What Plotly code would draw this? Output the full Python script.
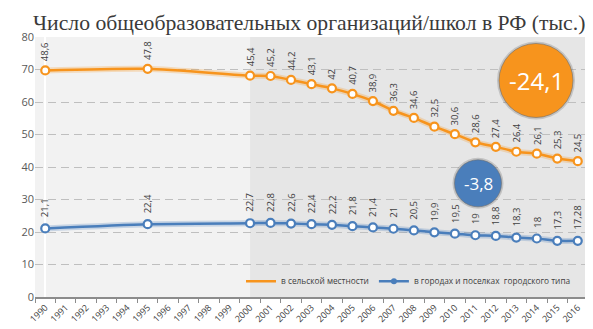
import plotly.graph_objects as go

years = [str(y) for y in range(1990, 2017)]
data_years = ["1990", "1995", "2000", "2001", "2002", "2003", "2004", "2005", "2006",
              "2007", "2008", "2009", "2010", "2011", "2012", "2013", "2014", "2015", "2016"]
rural = [48.6, 47.8, 45.4, 45.2, 44.2, 43.1, 42, 40.7, 38.9, 36.3, 34.6, 32.5, 30.6,
         28.6, 27.4, 26.4, 26.1, 25.3, 24.5]
urban = [21.1, 22.4, 22.7, 22.8, 22.6, 22.4, 22.2, 21.8, 21.4, 21, 20.5, 19.9, 19.5,
         19, 18.8, 18.3, 18, 17.3, 17.28]
rural_change = "-24,1"
urban_change = "-3,8"
title = "Число общеобразовательных организаций/школ в РФ (тыс.)"
rural_name = "в сельской местности"
urban_name = "в городах и поселках  городского типа"

ORANGE = "#F7941D"
BLUE = "#4A7EBB"

stacked = [r + u for r, u in zip(rural, urban)]
xi = [years.index(y) for y in data_years]

def fmt(v):
    return ("%g" % v).replace(".", ",")

fig = go.Figure()

# glow
fig.add_trace(go.Scatter(x=xi, y=stacked, mode="lines",
                         line=dict(color=ORANGE, width=6, shape="spline", smoothing=0.6),
                         opacity=0.25, showlegend=False, hoverinfo="skip"))
fig.add_trace(go.Scatter(x=xi, y=urban, mode="lines",
                         line=dict(color=BLUE, width=6, shape="spline", smoothing=0.6),
                         opacity=0.25, showlegend=False, hoverinfo="skip"))

fig.add_trace(go.Scatter(x=xi, y=stacked, mode="lines+markers",
                         line=dict(color=ORANGE, width=2.5, shape="spline", smoothing=0.6),
                         marker=dict(size=8, color="white", line=dict(color=ORANGE, width=2.2)),
                         showlegend=False))
fig.add_trace(go.Scatter(x=xi, y=urban, mode="lines+markers",
                         line=dict(color=BLUE, width=2.5, shape="spline", smoothing=0.6),
                         marker=dict(size=8, color="white", line=dict(color=BLUE, width=2.2)),
                         showlegend=False))

# legend-only traces
fig.add_trace(go.Scatter(x=[None], y=[None], mode="lines", name=rural_name,
                         line=dict(color=ORANGE, width=2.5)))
fig.add_trace(go.Scatter(x=[None], y=[None], mode="lines+markers", name=urban_name,
                         line=dict(color=BLUE, width=2.5),
                         marker=dict(size=6, color=BLUE)))

annotations = []
for x, y, v in zip(xi, stacked, rural):
    annotations.append(dict(x=x, y=y, xref="x", yref="y", text=fmt(v), showarrow=False,
                            textangle=-90, yanchor="bottom", xanchor="center", yshift=7,
                            font=dict(family="Open Sans", size=9.5, color="#404040")))
for x, y, v in zip(xi, urban, urban):
    annotations.append(dict(x=x, y=y, xref="x", yref="y", text=fmt(v), showarrow=False,
                            textangle=-90, yanchor="bottom", xanchor="center", yshift=9,
                            font=dict(family="Open Sans", size=9.5, color="#404040")))

L, R, T, B = 27, 13, 29, 37
W, H = 593, 329
pw, ph = W - L - R, H - T - B

def px(xp):
    return (xp - L) / pw

def py(yp):
    return (H - B - yp) / ph

split = years.index("2000")
shapes = [
    dict(type="rect", xref="x", yref="paper", x0=-0.5, x1=split, y0=0, y1=1,
         fillcolor="#F2F2F2", line=dict(width=0), layer="below"),
    dict(type="rect", xref="x", yref="paper", x0=split, x1=len(years) - 0.5, y0=0, y1=1,
         fillcolor="#E6E6E6", line=dict(width=0), layer="below"),
]

circles = [(528, 73, 37, ORANGE, rural_change, 24), (470, 177, 23.5, BLUE, urban_change, 17)]
for cx, cy, r, col, txt, fs in circles:
    shapes.append(dict(type="circle", xref="paper", yref="paper", xsizemode="pixel",
                       ysizemode="pixel", xanchor=px(cx), yanchor=py(cy),
                       x0=-r - 2, x1=r + 2, y0=-r - 2, y1=r + 2,
                       fillcolor="rgba(90,90,90,0.25)", line=dict(width=0), layer="above"))
    shapes.append(dict(type="circle", xref="paper", yref="paper", xsizemode="pixel",
                       ysizemode="pixel", xanchor=px(cx), yanchor=py(cy),
                       x0=-r, x1=r, y0=-r, y1=r,
                       fillcolor=col, line=dict(color="rgba(110,110,110,0.6)", width=1),
                       layer="above"))
    annotations.append(dict(x=px(cx), y=py(cy), xref="paper", yref="paper", text=txt,
                            showarrow=False, xanchor="center", yanchor="middle",
                            font=dict(family="Open Sans", size=fs, color="white")))

fig.update_layout(
    width=W, height=H,
    margin=dict(l=L, r=R, t=T, b=B),
    paper_bgcolor="white", plot_bgcolor="rgba(0,0,0,0)",
    title=dict(text=title, x=25 / W, xanchor="left", y=1 - 14 / H, yanchor="middle",
               font=dict(family="Liberation Serif", size=21.7, color="#3a3a3a")),
    showlegend=True,
    legend=dict(orientation="h", x=px(233), y=py(276), xanchor="left", yanchor="middle",
                bgcolor="rgba(0,0,0,0)", font=dict(family="Open Sans", size=8.3, color="#404040"),
                itemwidth=30, tracegroupgap=0),
    shapes=shapes,
    annotations=annotations,
    xaxis=dict(type="linear", range=[-0.5, len(years) - 0.5],
               tickmode="array", tickvals=list(range(len(years))), ticktext=years,
               tickangle=-45, showgrid=False,
               showline=True, linecolor="#8C8C8C", linewidth=1.5, ticks="",
               tickfont=dict(family="Open Sans", size=9, color="#404040"),
               minor=dict(tickmode="array", tickvals=[i - 0.5 for i in range(len(years) + 1)],
                          ticks="outside", ticklen=4, tickcolor="#8C8C8C", showgrid=False)),
    yaxis=dict(range=[0, 80], dtick=10, showgrid=True, gridcolor="#BFBFBF",
               griddash="8px,5px", gridwidth=1, zeroline=False, showline=False,
               tickfont=dict(family="Open Sans", size=11, color="#595959"), ticks=""),
)

fig.write_html("out.html")
